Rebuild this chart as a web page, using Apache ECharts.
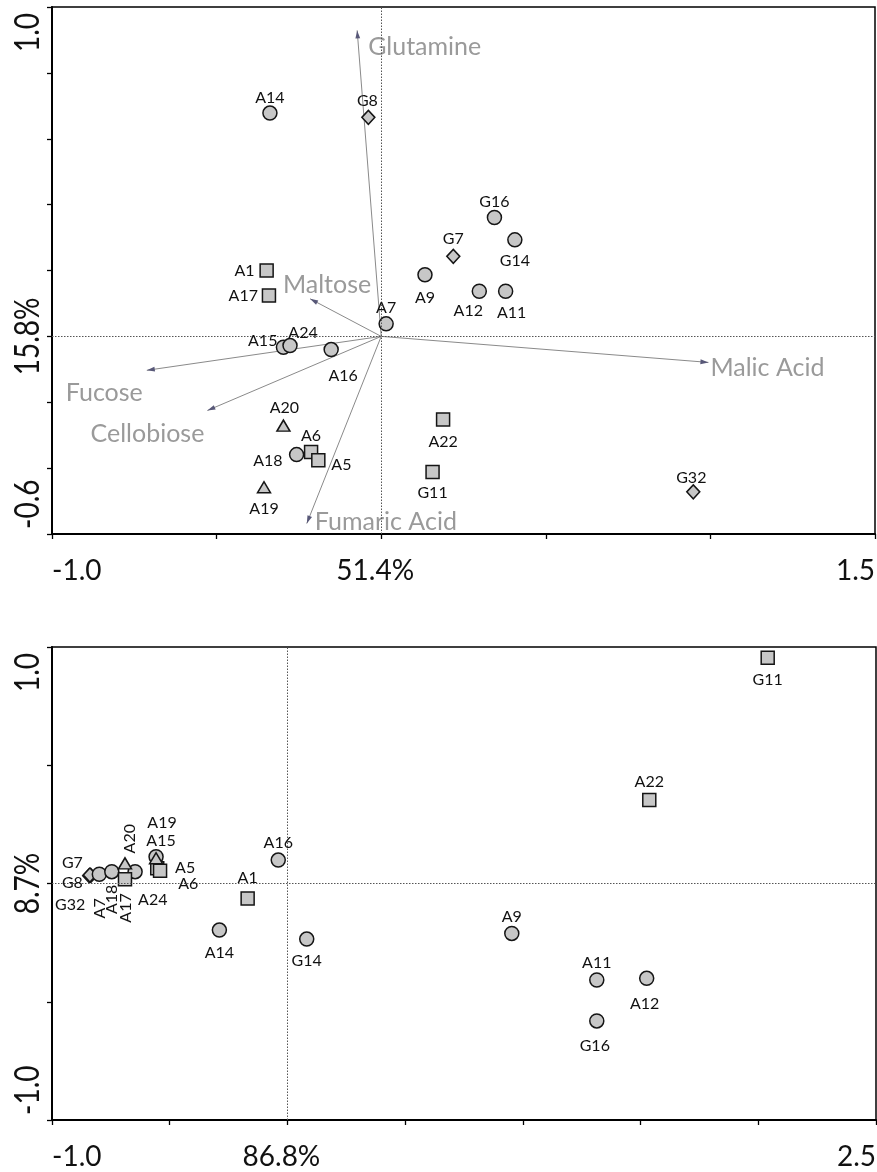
<!DOCTYPE html>
<html>
<head>
<meta charset="utf-8">
<script src="https://cdn.jsdelivr.net/npm/echarts@6/dist/echarts.min.js"></script>
<style>
  html, body { margin: 0; padding: 0; background: #fff; }
  #chart { width: 877px; height: 1172px; }
</style>
</head>
<body>
<div id="chart"></div>
<script>
// ---- Strain markers (shape per strain group) ----
const squareStrains   = ['A1', 'A17', 'A5', 'A6', 'A22', 'G11'];
const diamondStrains  = ['G7', 'G8', 'G32'];
const triangleStrains = ['A19', 'A20'];

// ---- Upper panel: biplot, axis 1 (51.4%) vs axis 2 (15.8%) ----
const biplotStrains = ['A14', 'G8', 'A1', 'A17', 'A9', 'G16', 'G14', 'G7', 'A12', 'A11', 'A7',
                       'A15', 'A24', 'A16', 'A20', 'A18', 'A6', 'A5', 'A19', 'A22', 'G11', 'G32'];
const biplotX = [-0.338, -0.039, -0.348, -0.341, 0.133, 0.344, 0.406, 0.219, 0.298, 0.378, 0.015,
                 -0.297, -0.277, -0.152, -0.297, -0.257, -0.213, -0.191, -0.356, 0.188, 0.156, 0.948];
const biplotY = [0.678, 0.665, 0.200, 0.124, 0.187, 0.361, 0.293, 0.243, 0.137, 0.137, 0.038,
                 -0.033, -0.028, -0.040, -0.271, -0.359, -0.351, -0.376, -0.458, -0.252, -0.412, -0.472];

// Substrate loading vectors
const substrateNames = ['Glutamine', 'Maltose', 'Fucose', 'Cellobiose', 'Fumaric Acid', 'Malic Acid'];
const substrateX = [-0.073, -0.216, -0.712, -0.528, -0.226, 0.994];
const substrateY = [0.929, 0.114, -0.103, -0.225, -0.568, -0.079];

const biplotXTicks = ['-1.0', '51.4%', '1.5'];
const biplotYTicks = ['-0.6', '15.8%', '1.0'];

// ---- Lower panel: axis 1 (86.8%) vs axis 2 (8.7%) ----
const ordStrains = ['G11', 'A22', 'A9', 'A11', 'A12', 'G16', 'A14', 'G14', 'A1', 'A16',
                    'G32', 'G8', 'G7', 'A7', 'A18', 'A24', 'A15', 'A17', 'A20', 'A6', 'A5', 'A19'];
const ordX = [2.040, 1.537, 0.953, 1.314, 1.526, 1.314, -0.289, 0.082, -0.169, -0.039,
              -0.842, -0.835, -0.839, -0.799, -0.746, -0.647, -0.558, -0.690, -0.690, -0.553, -0.541, -0.558];
const ordY = [0.955, 0.353, -0.211, -0.408, -0.401, -0.581, -0.197, -0.235, -0.063, 0.099,
              0.033, 0.034, 0.036, 0.039, 0.050, 0.050, 0.113, 0.018, 0.085, 0.064, 0.054, 0.107];

const ordXTicks = ['-1.0', '86.8%', '2.5'];
const ordYTicks = ['-1.0', '8.7%', '1.0'];

// ---- Label placement (pixel offsets from the marker centre: dx, dy, align, rotation) ----
const biplotLabelPlace = {
  A14: [0, -15], G8: [-1, -16], A1: [-12, 0, 'right'], A17: [-11, 0, 'right'], A9: [0, 23],
  G16: [0, -16], G14: [0, 21], G7: [0, -17], A12: [-11, 20], A11: [6, 22], A7: [0, -16],
  A15: [-6, -6, 'right'], A24: [13, -13], A16: [12, 26], A20: [1, -18], A18: [-14, 6, 'right'],
  A6: [0, -16], A5: [13, 5, 'left'], A19: [0, 22], A22: [0, 22], G11: [0, 21], G32: [-2, -14]
};
const substrateLabelPlace = {
  'Glutamine': [11, 17, 'left'], 'Maltose': [17, -14, 'center'], 'Fucose': [-4, 23, 'right'],
  'Cellobiose': [-3, 23, 'right'], 'Fumaric Acid': [8, -2, 'left'], 'Malic Acid': [2, 6, 'left']
};
const ordLabelPlace = {
  G11: [0, 22], A22: [0, -18], A9: [0, -17], A11: [0, -17], A12: [-2, 26], G16: [-2, 25],
  A14: [0, 23], G14: [0, 22], A1: [0, -21], A16: [0, -17],
  G7: [-7, -12, 'right'], G8: [-8, 7, 'right'], G32: [-4, 29, 'right'],
  A7: [1, 24, 'right', 90], A18: [0, 13, 'right', 90], A17: [1, 14, 'right', 90],
  A24: [3, 28, 'left'], A20: [5, -10, 'left', 90], A19: [6, -35], A15: [5, -16],
  A5: [15, -3, 'left'], A6: [21, 15, 'left']
};

const FONT = 'Lato, "Open Sans", sans-serif';

function shapeOf(name) {
  if (squareStrains.includes(name)) return 'square';
  if (diamondStrains.includes(name)) return 'diamond';
  if (triangleStrains.includes(name)) return 'triangle';
  return 'circle';
}
const symbolFor = { circle: 'circle', square: 'rect', diamond: 'diamond', triangle: 'triangle' };
const symbolSizeFor = { circle: 14, square: 13, diamond: [13, 14], triangle: [13, 11] };
const drawOrder = ['diamond', 'circle', 'square', 'triangle'];

function originLines() {
  return {
    silent: true, symbol: 'none', animation: false,
    label: { show: false },
    lineStyle: { type: [1.5, 1.5], color: '#555', width: 1 },
    data: [{ xAxis: 0 }, { yAxis: 0 }]
  };
}

function markerSeries(gi, names, xs, ys) {
  return drawOrder.map(shape => {
    const s = {
      type: 'scatter', xAxisIndex: gi, yAxisIndex: gi,
      symbol: symbolFor[shape], symbolSize: symbolSizeFor[shape],
      itemStyle: { color: '#c7c7c7', borderColor: '#151515', borderWidth: 1.5, opacity: 1 },
      emphasis: { disabled: true }, silent: true, animation: false, z: 4,
      data: names.map((n, i) => shapeOf(n) === shape ? [xs[i], ys[i]] : null).filter(d => d)
    };
    if (shape === 'circle') s.markLine = originLines();
    return s;
  });
}

function labelSeries(gi, names, xs, ys, place) {
  return {
    type: 'custom', xAxisIndex: gi, yAxisIndex: gi, silent: true, animation: false, z: 6, clip: false,
    encode: { x: 0, y: 1 },
    data: names.map((n, i) => [xs[i], ys[i], i]),
    renderItem(params, api) {
      const i = api.value(2);
      const p = api.coord([api.value(0), api.value(1)]);
      const pl = place[names[i]];
      const dx = pl[0], dy = pl[1], align = pl[2] || 'center', rot = pl[3] || 0;
      return {
        type: 'text', x: p[0] + dx, y: p[1] + dy, rotation: rot * Math.PI / 180,
        style: { text: names[i], x: 0, y: 0, align: align, verticalAlign: 'middle',
                 fill: '#111', font: '16px ' + FONT }
      };
    }
  };
}

const vectorSeries = {
  type: 'custom', xAxisIndex: 0, yAxisIndex: 0, silent: true, animation: false, z: 3, clip: false,
  encode: { x: 0, y: 1 },
  data: substrateNames.map((n, i) => [substrateX[i], substrateY[i], i]),
  renderItem(params, api) {
    const i = api.value(2);
    const o = api.coord([0, 0]);
    const t = api.coord([api.value(0), api.value(1)]);
    const ang = Math.atan2(t[1] - o[1], t[0] - o[0]);
    const L = 8, W = 2.4;
    const bx = t[0] - L * Math.cos(ang), by = t[1] - L * Math.sin(ang);
    const nx = -Math.sin(ang) * W, ny = Math.cos(ang) * W;
    const pl = substrateLabelPlace[substrateNames[i]];
    return {
      type: 'group',
      children: [
        { type: 'line', shape: { x1: o[0], y1: o[1], x2: t[0], y2: t[1] },
          style: { stroke: '#8a8a8a', lineWidth: 1 } },
        { type: 'polygon', shape: { points: [[t[0], t[1]], [bx + nx, by + ny], [bx - nx, by - ny]] },
          style: { fill: '#585878' } },
        { type: 'text', x: t[0] + pl[0], y: t[1] + pl[1],
          style: { text: substrateNames[i], x: 0, y: 0, align: pl[2], verticalAlign: 'middle',
                   fill: '#9a9a9a', font: '25px ' + FONT } }
      ]
    };
  }
};

function valueAxis(gi, min, max, interval) {
  return {
    type: 'value', gridIndex: gi, min: min, max: max, interval: interval,
    axisLine: { show: true, onZero: false, lineStyle: { color: '#000', width: 2 } },
    axisTick: { show: true, length: 5, lineStyle: { color: '#000', width: 1.3 } },
    axisLabel: { show: false }, splitLine: { show: false }
  };
}

const chart = echarts.init(document.getElementById('chart'));
chart.setOption({
  animation: false,
  backgroundColor: '#fff',
  grid: [
    { left: 52, top: 7, width: 823, height: 527, show: true, borderColor: '#000', borderWidth: 1.5 },
    { left: 52, top: 647, width: 824, height: 473, show: true, borderColor: '#000', borderWidth: 1.5 }
  ],
  xAxis: [valueAxis(0, -1.0, 1.5, 0.5), valueAxis(1, -1.0, 2.5, 0.5)],
  yAxis: [valueAxis(0, -0.6, 1.0, 0.2), valueAxis(1, -1.0, 1.0, 0.5)],
  series: [
    vectorSeries,
    ...markerSeries(0, biplotStrains, biplotX, biplotY),
    labelSeries(0, biplotStrains, biplotX, biplotY, biplotLabelPlace),
    ...markerSeries(1, ordStrains, ordX, ordY),
    labelSeries(1, ordStrains, ordX, ordY, ordLabelPlace)
  ]
});

// ---- Axis end labels and explained-variance labels ----
function axisTexts(gi, xRange, yRange, xTicks, yTicks) {
  const bl = chart.convertToPixel({ gridIndex: gi }, [xRange[0], yRange[0]]);
  const tr = chart.convertToPixel({ gridIndex: gi }, [xRange[1], yRange[1]]);
  const org = chart.convertToPixel({ gridIndex: gi }, [0, 0]);
  const ty = bl[1] + 37;
  const yx = bl[0] - 24;
  const xFont = '28px ' + FONT, yFont = '35px ' + FONT;
  const mk = (text, x, y, align, font, rot) => ({
    type: 'text', x: x, y: y, rotation: rot ? Math.PI / 2 : 0, scaleX: rot ? 0.8 : 1,
    silent: true,
    style: { text: text, x: 0, y: 0, align: align, verticalAlign: 'middle', fill: '#111', font: font }
  });
  return [
    mk(xTicks[0], bl[0], ty, 'left', xFont),
    mk(xTicks[1], org[0] - 6, ty, 'center', xFont),
    mk(xTicks[2], tr[0], ty, 'right', xFont),
    mk(yTicks[0], yx, bl[1] - 5, 'left', yFont, true),
    mk(yTicks[1], yx, org[1], 'center', yFont, true),
    mk(yTicks[2], yx, tr[1] + 6, 'right', yFont, true)
  ];
}

chart.setOption({
  graphic: [
    ...axisTexts(0, [-1.0, 1.5], [-0.6, 1.0], biplotXTicks, biplotYTicks),
    ...axisTexts(1, [-1.0, 2.5], [-1.0, 1.0], ordXTicks, ordYTicks)
  ]
});
</script>
</body>
</html>
